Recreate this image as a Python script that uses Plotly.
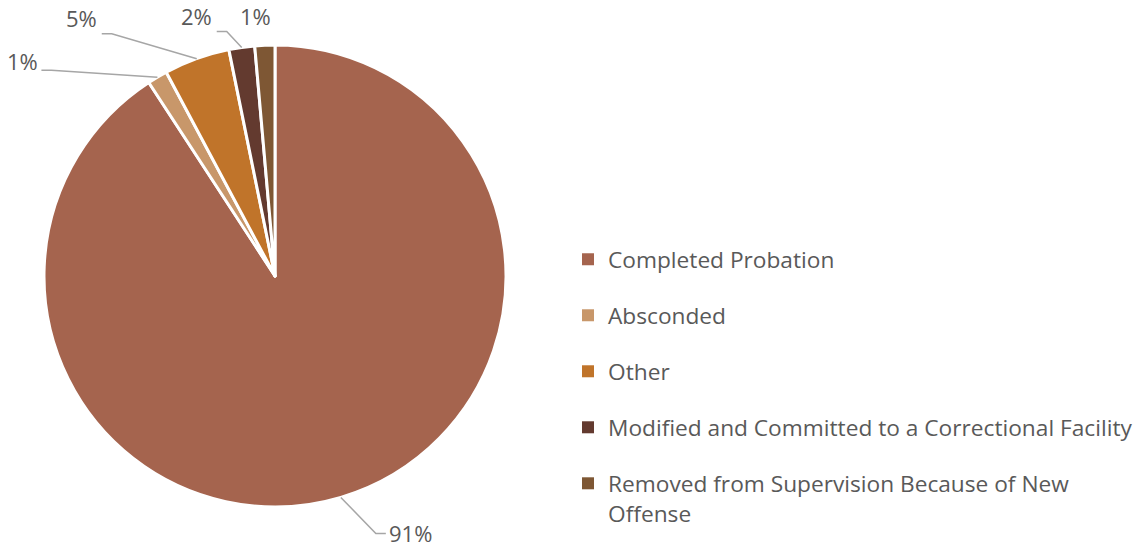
import math
import plotly.graph_objects as go

# ---- data ----
categories = [
    "Completed Probation",
    "Absconded",
    "Other",
    "Modified and Committed to a Correctional Facility",
    "Removed from Supervision Because of New Offense",
]
legend_labels = [
    "Completed Probation",
    "Absconded",
    "Other",
    "Modified and Committed to a Correctional Facility",
    "Removed from Supervision Because of New<br>Offense",
]
values = [90.8, 1.4, 4.6, 1.8, 1.4]
colors = ["#A5644E", "#C8976A", "#C0742A", "#633A2F", "#7E5734"]

# ---- layout / style ----
W, H = 1146, 547
CX, CY, R = 275, 276, 231            # pie centre & radius, px
label_offsets = [(70, 36), (-135, -16), (-115, -41), (-45, -31), (-9, -29)]
leader_dy = [0, 9, 16, 15, 0]
show_leader = [True, True, True, True, False]
half_w = [21, 15, 16, 16, 15]
TEXT_COLOR = "#595959"
LINE_COLOR = "#A6A6A6"
FONT = "Open Sans, Noto Sans, sans-serif"
LEGEND_FONT_SIZE = 22.7
LEGEND_GAP = 23.5


def px2paper(x, y):
    return x / W, 1 - y / H


x0, y1 = px2paper(CX - R, CY - R)
x1, y0 = px2paper(CX + R, CY + R)

fig = go.Figure(go.Pie(
    labels=categories,
    values=values,
    sort=False,
    direction="clockwise",
    rotation=0,
    marker=dict(colors=colors, line=dict(color="white", width=3)),
    textinfo="none",
    hoverinfo="label+percent",
    showlegend=False,
    domain=dict(x=[x0, x1], y=[y0, y1]),
))

# legend entries (one per category, so the gap between them can be set)
for i, (lab, col) in enumerate(zip(legend_labels, colors)):
    fig.add_trace(go.Scatter(
        x=[None], y=[None], mode="markers", name=lab,
        marker=dict(symbol="square", size=10, color=col),
        legendgroup=f"g{i}", showlegend=True, hoverinfo="skip",
    ))

total = sum(values)
cum = 0.0
annotations = []
shapes = []
for i, v in enumerate(values):
    mid = (cum + v / 2) / total * 2 * math.pi
    cum += v
    ex = CX + R * math.sin(mid)
    ey = CY - R * math.cos(mid)
    dx, dy = label_offsets[i]
    tx, ty = ex + dx, ey + dy
    pct = round(v / total * 100)
    ax_, ay_ = px2paper(tx, ty)
    annotations.append(dict(
        x=ax_, y=ay_, xref="paper", yref="paper", text=f"{pct}%",
        showarrow=False, xanchor="center", yanchor="middle",
        font=dict(size=22, color=TEXT_COLOR, family=FONT),
    ))
    if show_leader[i]:
        side = -1 if dx > 0 else 1
        endx = tx + side * (half_w[i] + 4)
        endy = ty + leader_dy[i]
        elbx = endx + side * 10
        pts = [(ex, ey), (elbx, endy), (endx, endy)]
        pp = [px2paper(*p) for p in pts]
        path = "M {} {} L {} {} L {} {}".format(*[c for p in pp for c in p])
        shapes.append(dict(type="path", path=path, xref="paper", yref="paper",
                           line=dict(color=LINE_COLOR, width=1.5)))

lx, ly = px2paper(568, 238)
fig.update_layout(
    width=W, height=H,
    margin=dict(l=0, r=0, t=0, b=0, autoexpand=False),
    paper_bgcolor="white",
    plot_bgcolor="white",
    xaxis=dict(visible=False),
    yaxis=dict(visible=False),
    showlegend=True,
    legend=dict(
        x=lx, y=ly, xanchor="left", yanchor="top",
        font=dict(size=LEGEND_FONT_SIZE, color=TEXT_COLOR, family=FONT),
        itemsizing="constant", valign="top",
        tracegroupgap=LEGEND_GAP,
        bgcolor="rgba(0,0,0,0)",
    ),
    annotations=annotations,
    shapes=shapes,
)

fig.write_html(
    "out.html",
    config={"displayModeBar": False},
    post_script="document.body.style.margin='0';document.body.style.overflow='hidden';",
)
